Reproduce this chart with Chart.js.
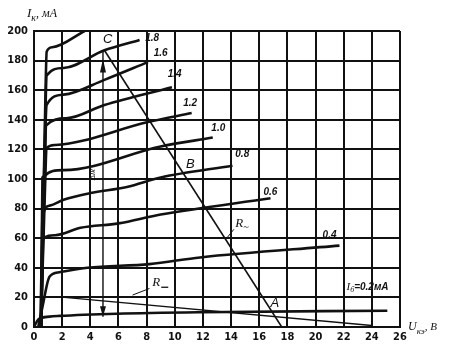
<!DOCTYPE html>
<html>
<head>
<meta charset="utf-8">
<script src="https://cdn.jsdelivr.net/npm/chart.js@4.4.1/dist/chart.umd.min.js"></script>
<style>
  body { margin: 0; background: #fff; }
  #wrap { width: 455px; height: 351px; }
</style>
</head>
<body>
<div id="wrap"><canvas id="chart" width="455" height="351"></canvas></div>
<script>
// output characteristics, Uкэ (V) vs Iк (mA), one curve per base current
const ib20 = [[0.5, 0], [0.8, 150], [0.9, 186], [1.3, 189], [3.6, 200]];
const ib18 = [[0.5, 0], [0.8, 140], [0.9, 170], [2.1, 175], [5, 187], [7.5, 194]];
const ib16 = [[0.5, 0], [0.8, 130], [0.9, 150], [2.1, 157], [5, 167], [8.1, 179]];
const ib14 = [[0.5, 0], [0.8, 120], [0.85, 136], [2.3, 141], [5, 150], [9.8, 162]];
const ib12 = [[0.5, 0], [0.85, 115], [0.9, 121], [1.5, 123], [8.1, 138.5], [11.2, 144.6]];
const ib10 = [[0.5, 0], [0.6, 101], [2.1, 106], [9, 122], [12.7, 128]];
const ib08 = [[0.5, 0], [0.6, 74], [1.1, 82], [2.1, 86], [4, 90.5], [6.6, 94.6], [9, 101], [14.1, 109]];
const ib06 = [[0.45, 0], [0.6, 59], [1.5, 62], [3.3, 67], [6, 70], [9, 76], [16.8, 87]];
const ib04 = [[0.3, 0], [0.6, 13.5], [1.1, 34], [1.8, 37], [3.8, 40], [8.2, 42.5], [11.8, 47], [21.7, 55]];
const ib02 = [[0, 0], [0.3, 5], [1.1, 7], [1.8, 7.5], [5.9, 9], [11.8, 10], [25.1, 11]];

// load lines and the swing marker
const loadAC = [[5, 187], [17.6, 0]];
const loadDC = [[1.6, 20.5], [24, 1]];
const swing = [[4.9, 187], [4.9, 7]];

const xTicks = [0, 2, 4, 6, 8, 10, 12, 14, 16, 18, 20, 22, 24, 26];
const yTicks = [0, 20, 40, 60, 80, 100, 120, 140, 160, 180, 200];

const toXY = arr => arr.map(p => ({ x: p[0], y: p[1] }));
const ink = "#111";

const curves = [ib20, ib18, ib16, ib14, ib12, ib10, ib08, ib06, ib04, ib02];
const datasets = curves.map(c => ({
  data: toXY(c),
  borderColor: ink,
  borderWidth: 2.6,
  pointRadius: 0,
  cubicInterpolationMode: "monotone",
  fill: false
}));
datasets.push({ data: toXY(loadAC), borderColor: ink, borderWidth: 1.6, pointRadius: 0, fill: false });
datasets.push({ data: toXY(loadDC), borderColor: ink, borderWidth: 1.4, pointRadius: 0, fill: false });
datasets.push({ data: toXY(swing), borderColor: ink, borderWidth: 1.4, pointRadius: 0, fill: false });

function subText(ctx, x, y, main, sub, size) {
  ctx.font = "italic " + size + "px 'Liberation Serif', serif";
  ctx.fillText(main, x, y);
  let w = ctx.measureText(main).width;
  ctx.font = "italic " + Math.round(size * 0.75) + "px 'Liberation Serif', serif";
  ctx.fillText(sub, x + w, y + size * 0.3);
  return w + ctx.measureText(sub).width;
}

const notes = {
  id: "notes",
  afterDatasetsDraw(chart) {
    const ctx = chart.ctx;
    const xs = chart.scales.x, ys = chart.scales.y;
    const px = v => xs.getPixelForValue(v);
    const py = v => ys.getPixelForValue(v);
    ctx.save();
    ctx.fillStyle = ink;
    ctx.strokeStyle = ink;

    // curve labels
    ctx.font = "italic bold 10px 'Liberation Sans', sans-serif";
    ctx.textBaseline = "middle";
    ctx.textAlign = "left";
    const lab = [["1.8", 7.9, 195], ["1.6", 8.5, 185], ["1.4", 9.5, 171], ["1.2", 10.6, 151],
                 ["1.0", 12.6, 134], ["0.8", 14.3, 117], ["0.6", 16.3, 91], ["0.4", 20.5, 62]];
    lab.forEach(l => ctx.fillText(l[0], px(l[1]), py(l[2])));

    // I_б = 0.2 mA
    let x0 = px(22.2), y0 = py(27);
    let w = subText(ctx, x0, y0, "I", "б", 11);
    ctx.font = "italic bold 10px 'Liberation Sans', sans-serif";
    ctx.fillText("=0.2мА", x0 + w, y0);

    // point letters
    ctx.font = "italic 13px 'Liberation Sans', sans-serif";
    ctx.fillText("C", px(4.9), py(194));
    ctx.fillText("B", px(10.8), py(110));
    ctx.fillText("A", px(16.8), py(16));

    // R~ and R_ with leaders
    ctx.lineWidth = 1;
    ctx.beginPath();
    ctx.moveTo(px(13.6), py(59)); ctx.lineTo(px(14.2), py(66));
    ctx.moveTo(px(7), py(21.6)); ctx.lineTo(px(8.2), py(26));
    ctx.stroke();
    subText(ctx, px(14.3), py(70), "R", "~", 13);
    ctx.font = "italic 13px 'Liberation Serif', serif";
    ctx.fillText("R", px(8.4), py(30));
    ctx.fillRect(px(8.4) + 9, py(30) + 4, 7, 1.3);

    // arrow heads on the swing marker
    const ax = px(4.9);
    ctx.beginPath();
    ctx.moveTo(ax - 3, py(14)); ctx.lineTo(ax + 3, py(14)); ctx.lineTo(ax, py(7)); ctx.closePath();
    ctx.moveTo(ax - 3, py(172)); ctx.lineTo(ax + 3, py(172)); ctx.lineTo(ax, py(181)); ctx.closePath();
    ctx.fill();

    // small mark near 1.0 curve
    ctx.save();
    ctx.translate(px(4.2), py(103));
    ctx.rotate(-Math.PI / 2);
    ctx.font = "italic 8px 'Liberation Sans', sans-serif";
    ctx.textAlign = "center";
    ctx.fillText("ΔIк", 0, 0);
    ctx.restore();

    // axis titles
    ctx.textAlign = "left";
    ctx.textBaseline = "alphabetic";
    let tw = subText(ctx, 27, 17, "I", "к", 13);
    ctx.font = "italic 12px 'Liberation Serif', serif";
    ctx.fillText(", мА", 27 + tw, 17);
    let uw = subText(ctx, 408, 330, "U", "кэ", 12);
    ctx.font = "italic 11px 'Liberation Serif', serif";
    ctx.fillText(", В", 408 + uw, 330);
    ctx.restore();
  }
};

new Chart(document.getElementById("chart").getContext("2d"), {
  type: "line",
  data: { datasets },
  options: {
    responsive: false,
    animation: false,
    layout: { padding: { top: 31, right: 55, left: 0, bottom: 0 } },
    plugins: { legend: { display: false }, tooltip: { enabled: false } },
    scales: {
      x: {
        type: "linear",
        min: 0, max: 26,
        afterBuildTicks: s => { s.ticks = xTicks.map(v => ({ value: v })); },
        afterFit: s => { s.height = 24; },
        ticks: { color: ink, font: { family: "'Liberation Sans Narrow', 'DejaVu Sans Condensed', sans-serif", size: 11, weight: "bold" }, padding: 4, maxRotation: 0 },
        grid: { color: ink, lineWidth: 2, drawTicks: false },
        border: { color: ink, width: 2 }
      },
      y: {
        min: 0, max: 200,
        afterBuildTicks: s => { s.ticks = yTicks.map(v => ({ value: v })); },
        afterFit: s => { s.width = 34; },
        ticks: { color: ink, font: { family: "'Liberation Sans Narrow', 'DejaVu Sans Condensed', sans-serif", size: 11, weight: "bold" }, padding: 6 },
        grid: { color: ink, lineWidth: 2, drawTicks: false },
        border: { color: ink, width: 2 }
      }
    }
  },
  plugins: [notes]
});
</script>
</body>
</html>
